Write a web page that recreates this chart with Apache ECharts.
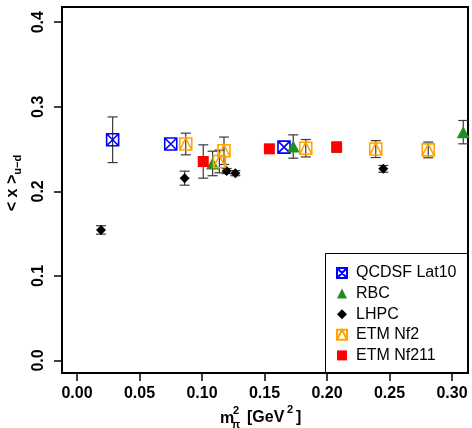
<!DOCTYPE html>
<html>
<head>
<meta charset="utf-8">
<script src="https://cdn.jsdelivr.net/npm/echarts@6/dist/echarts.min.js"></script>
<style>
  html, body { margin: 0; padding: 0; background: #fff; }
  #chart { width: 472px; height: 428px; }
</style>
</head>
<body>
<div id="chart"></div>
<script>
// m_pi^2 [GeV^2], <x>_{u-d}, error
const qcdsfX = [0.0285, 0.075, 0.1656]
const qcdsfY = [0.261, 0.256, 0.2523]
const qcdsfErr = [0.027, 0, 0]

const rbcX = [0.1085, 0.173, 0.309]
const rbcY = [0.233, 0.253, 0.270]
const rbcErr = [0.0145, 0.0138, 0.0138]

const lhpcX = [0.0192, 0.0861, 0.1197, 0.1267, 0.245]
const lhpcY = [0.1544, 0.2156, 0.224, 0.2215, 0.2266]
const lhpcErr = [0.005, 0.0083, 0.003, 0.003, 0.004]

const etm2X = [0.087, 0.1139, 0.1176, 0.183, 0.239, 0.281]
const etm2Y = [0.256, 0.2353, 0.248, 0.251, 0.250, 0.249]
const etm2Err = [0.0128, 0.0134, 0.0162, 0.0103, 0.010, 0.0093]

const etm211X = [0.101, 0.1539, 0.2077]
const etm211Y = [0.2353, 0.2503, 0.2523]
const etm211Err = [0.0197, 0.005, 0.006]

const xTicks = [0, 0.05, 0.1, 0.15, 0.2, 0.25, 0.3]
const yTicks = [0, 0.1, 0.2, 0.3, 0.4]

const FONT = '"Liberation Sans", Arial, sans-serif'
const boxCross = 'path://M0,0L10,0L10,10L0,10ZM0,0L10,10M10,0L0,10'
const boxTri = 'path://M0,0L10,0L10,10L0,10ZM0,10L5,0L10,10'

const zip = (xs, ys, es) => xs.map((x, i) => [x, ys[i], es[i]])

function renderErr(params, api) {
  const x = api.value(0)
  const y = api.value(1)
  const e = api.value(2)
  if (!e) {
    return
  }
  const top = api.coord([x, y + e])
  const bot = api.coord([x, y - e])
  const w = 5
  const style = { stroke: '#3a3a3a', lineWidth: 1.2 }
  return {
    type: 'group',
    children: [
      { type: 'line', shape: { x1: top[0], y1: top[1], x2: bot[0], y2: bot[1] }, style },
      { type: 'line', shape: { x1: top[0] - w, y1: top[1], x2: top[0] + w, y2: top[1] }, style },
      { type: 'line', shape: { x1: bot[0] - w, y1: bot[1], x2: bot[0] + w, y2: bot[1] }, style }
    ]
  }
}

function errSeries(data) {
  return {
    type: 'custom',
    renderItem: renderErr,
    data,
    z: 1,
    silent: true,
    encode: { x: 0, y: 1 }
  }
}

const sets = [
  { name: 'QCDSF Lat10', data: zip(qcdsfX, qcdsfY, qcdsfErr), symbol: boxCross, size: 12,
    itemStyle: { color: 'rgba(0,0,0,0)', borderColor: '#0000ff', borderWidth: 1.6, opacity: 1 } },
  { name: 'RBC', data: zip(rbcX, rbcY, rbcErr), symbol: 'triangle', size: [13, 12],
    itemStyle: { color: '#228b22', opacity: 1 } },
  { name: 'LHPC', data: zip(lhpcX, lhpcY, lhpcErr), symbol: 'diamond', size: 10,
    itemStyle: { color: '#000', opacity: 1 } },
  { name: 'ETM Nf2', data: zip(etm2X, etm2Y, etm2Err), symbol: boxTri, size: 12,
    itemStyle: { color: 'rgba(0,0,0,0)', borderColor: '#ffa500', borderWidth: 1.6, opacity: 1 } },
  { name: 'ETM Nf211', data: zip(etm211X, etm211Y, etm211Err), symbol: 'rect', size: 11,
    itemStyle: { color: '#ff0000', opacity: 1 } }
]

const series = []
sets.forEach((s) => series.push(errSeries(s.data)))
sets.forEach((s) => series.push({
  name: s.name,
  type: 'scatter',
  data: s.data,
  symbol: s.symbol,
  symbolSize: s.size,
  itemStyle: s.itemStyle,
  z: 2
}))

const axisText = { fontFamily: FONT, fontSize: 16, fontWeight: 'bold', color: '#000' }

const chart = echarts.init(document.getElementById('chart'))
chart.setOption({
  animation: false,
  grid: {
    left: 62, top: 7, right: 4, bottom: 55,
    outerBoundsMode: 'none',
    show: true, borderColor: '#000', borderWidth: 2
  },
  xAxis: {
    type: 'value',
    min: -0.012,
    max: 0.3128,
    splitLine: { show: false },
    axisLine: { show: true, onZero: false, lineStyle: { color: '#000', width: 2 } },
    axisTick: { show: true, inside: false, length: 8, customValues: xTicks, lineStyle: { color: '#000', width: 1.5 } },
    axisLabel: {
      ...axisText,
      customValues: xTicks,
      margin: 13,
      formatter: (v) => v.toFixed(2)
    }
  },
  yAxis: {
    type: 'value',
    min: -0.0148,
    max: 0.418,
    splitLine: { show: false },
    axisLine: { show: true, onZero: false, lineStyle: { color: '#000', width: 2 } },
    axisTick: { show: true, inside: false, length: 8, customValues: yTicks, lineStyle: { color: '#000', width: 1.5 } },
    axisLabel: {
      ...axisText,
      customValues: yTicks,
      rotate: 90,
      margin: 15,
      formatter: (v) => v.toFixed(1)
    },
    name: '< x >{sub|u\u2212d}',
    nameLocation: 'middle',
    nameRotate: 90,
    nameGap: 28,
    nameTextStyle: {
      ...axisText,
      padding: [0, 0, 0, 14],
      rich: {
        sub: { ...axisText, fontSize: 11, padding: [10, 0, 0, 0] }
      }
    }
  },
  legend: {
    data: sets.map((s) => s.name),
    orient: 'vertical',
    left: 331,
    top: 258,
    itemWidth: 10,
    itemHeight: 10,
    itemGap: 0.6,
    textStyle: { fontFamily: FONT, fontSize: 16, color: '#000', lineHeight: 20, padding: [0, 0, 0, 4] },
    selectedMode: false
  },
  graphic: [
    { type: 'rect', shape: { x: 325.5, y: 253.5, width: 143, height: 120 },
      style: { fill: 'none', stroke: '#000', lineWidth: 1 }, z: 0 },
    { type: 'text', x: 227, y: 418.5, style: { text: 'm', font: 'bold 16px ' + FONT, fill: '#000', textAlign: 'center', textVerticalAlign: 'middle' } },
    { type: 'text', x: 236, y: 410.5, style: { text: '2', font: 'bold 11px ' + FONT, fill: '#000', textAlign: 'center', textVerticalAlign: 'middle' } },
    { type: 'text', x: 236, y: 425, style: { text: '\u03c0', font: 'bold 11px ' + FONT, fill: '#000', textAlign: 'center', textVerticalAlign: 'middle' } },
    { type: 'text', x: 247, y: 418, style: { text: '[GeV', font: 'bold 16px ' + FONT, fill: '#000', textAlign: 'left', textVerticalAlign: 'middle' } },
    { type: 'text', x: 290, y: 410, style: { text: '2', font: 'bold 11px ' + FONT, fill: '#000', textAlign: 'center', textVerticalAlign: 'middle' } },
    { type: 'text', x: 296, y: 418, style: { text: ']', font: 'bold 16px ' + FONT, fill: '#000', textAlign: 'left', textVerticalAlign: 'middle' } }
  ],
  series
})
</script>
</body>
</html>
